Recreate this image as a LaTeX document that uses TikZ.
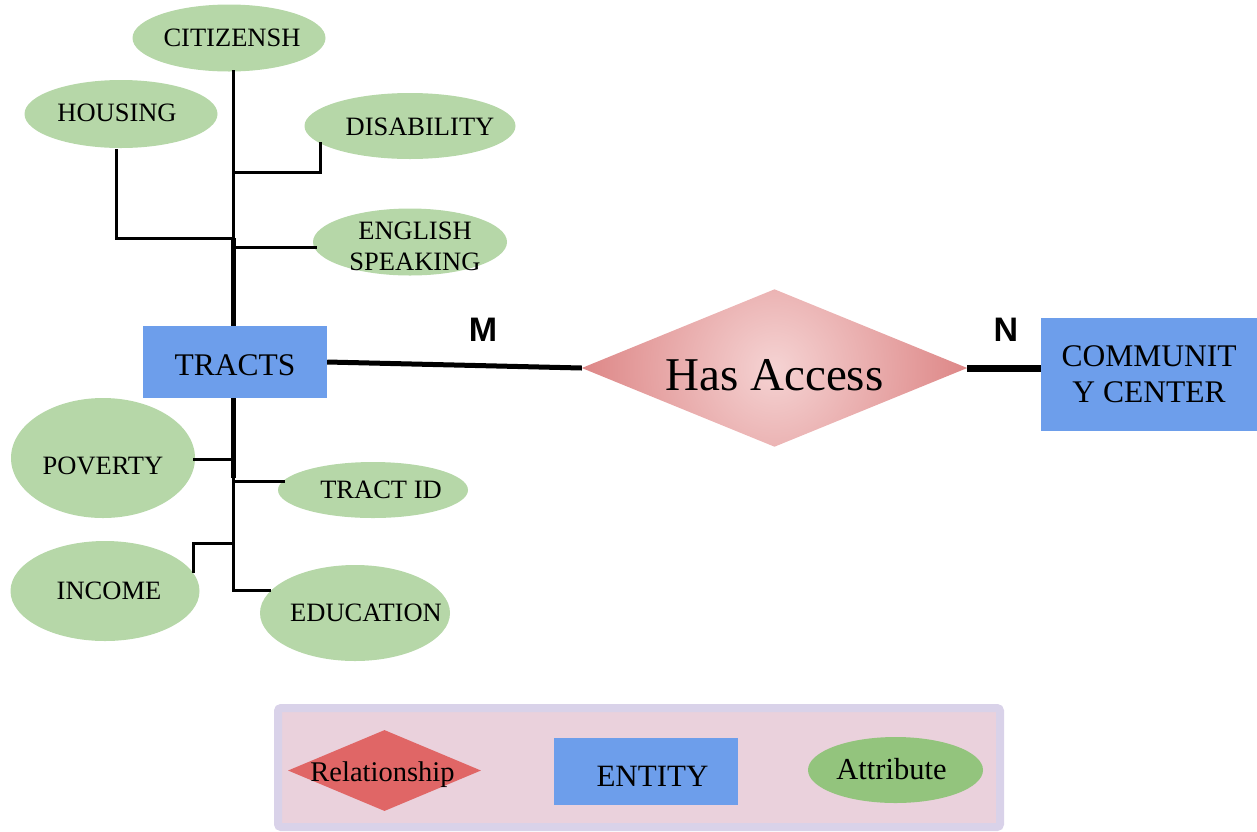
\documentclass[tikz,border=0pt]{standalone}
\usepackage{fontspec}
\setmainfont{Liberation Serif}
\newfontfamily\sansbold{Liberation Sans}[BoldFont={Liberation Sans Bold}]
\usetikzlibrary{shapes.geometric}
\definecolor{attrgreen}{HTML}{B6D7A8}
\definecolor{entblue}{HTML}{6D9EEB}
\definecolor{relred}{HTML}{E06666}
\definecolor{legfill}{HTML}{EAD1DC}
\definecolor{legline}{HTML}{D9D2E9}
\definecolor{legattr}{HTML}{93C47D}
\definecolor{shin}{HTML}{F5D3D3}
\definecolor{shout}{HTML}{CC5050}
\tikzset{
  attr/.style={ellipse, fill=attrgreen, inner sep=0pt},
  atext/.style={font=\fontsize{26.5}{31}\selectfont, inner sep=0pt, align=center},
  entity/.style={rectangle, fill=entblue, inner sep=0pt},
  br/.style={line width=3pt, line cap=rect},
  tk/.style={line width=5pt},
  card/.style={font=\sansbold\bfseries\fontsize{34}{34}\selectfont, inner sep=0pt}
}
\begin{document}
\begin{tikzpicture}[x=1pt,y=-1pt]
\useasboundingbox (0,0) rectangle (1257,831);

% attributes
\node[attr, minimum width=193pt, minimum height=67pt] (citizen) at (229,38) {};
\node[atext] at ([xshift=3pt]citizen.center) {CITIZENSH};
\node[attr, minimum width=193pt, minimum height=68pt] (housing) at (121,114) {};
\node[atext] at ([xshift=-4pt,yshift=1pt]housing.center) {HOUSING};
\node[attr, minimum width=211pt, minimum height=66pt] (disab) at (410,126) {};
\node[atext] at ([xshift=10pt,yshift=-1pt]disab.center) {DISABILITY};
\node[attr, minimum width=194pt, minimum height=67pt] (english) at (410,242) {};
\node[atext] at ([xshift=5pt,yshift=-4pt]english.center) {ENGLISH\\SPEAKING};
\node[attr, minimum width=184pt, minimum height=120pt] (poverty) at (103,458) {};
\node[atext] at ([yshift=-8pt]poverty.center) {POVERTY};
\node[attr, minimum width=190pt, minimum height=56pt] (tractid) at (373,490) {};
\node[atext] at ([xshift=8pt]tractid.center) {TRACT ID};
\node[attr, minimum width=189pt, minimum height=100pt] (income) at (105,591) {};
\node[atext] at ([xshift=4pt]income.center) {INCOME};
\node[attr, minimum width=190pt, minimum height=96pt] (educ) at (355,613) {};
\node[atext] at ([xshift=11pt]educ.center) {EDUCATION};

% entities
\node[entity, minimum width=184pt, minimum height=72pt] (tracts) at (235,362) {};
\node[font=\fontsize{31.5}{36}\selectfont, inner sep=0pt] at ([yshift=-3pt]tracts.center) {TRACTS};
\node[entity, minimum width=216pt, minimum height=113pt, font=\fontsize{31.5}{36}\selectfont, align=center] (cc) at (1149,374.5) {COMMUNIT\\Y CENTER};

% relationship
\node[diamond, minimum width=385pt, minimum height=157pt, inner sep=0pt] (has) at (774.5,368) {};
\begin{scope}
  \clip (has.north) -- (has.east) -- (has.south) -- (has.west) -- cycle;
  \shade[inner color=shin, outer color=shout] (has.center) circle (330pt);
\end{scope}
\node[font=\fontsize{47}{50}\selectfont, inner sep=0pt] at ([yshift=-7pt]has.center) {Has Access};

% trunk coordinates
\coordinate (tTop) at (233,71);
\coordinate (jDis) at (233,172);
\coordinate (jHou) at (233,238);
\coordinate (jEng) at (233,247);
\coordinate (tBot) at (233,398);
\coordinate (jPov) at (233,459);
\coordinate (jTid) at (233,481);
\coordinate (jThin) at (233,478);
\coordinate (jInc) at (233,543);
\coordinate (jEdu) at (233,590);
\coordinate (disEnd) at (320,143);
\coordinate (houEnd) at (116,150);
\coordinate (engEnd) at (315,247);
\coordinate (povEnd) at (194,459);
\coordinate (tidEnd) at (283,481);
\coordinate (incEnd) at (193,571);
\coordinate (eduEnd) at (269,590);

% upper trunk
\draw[br] (tTop) -- (jHou);
\draw[tk] (jHou) -- (jHou |- tracts.north);
\draw[br] (jDis) -| (disEnd);
\draw[br] (jHou) -| (houEnd);
\draw[br] (jEng) -- (engEnd);
% lower trunk
\draw[tk] (tBot) -- (jThin);
\draw[br] (jThin) -- (jEdu);
\draw[br] (jPov) -- (povEnd);
\draw[br] (jTid) -- (tidEnd);
\draw[br] (jInc) -| (incEnd);
\draw[br] (jEdu) -- (eduEnd);

% relationship lines
\draw[line width=5pt] (tracts.east) -- (has.west);
\draw[line width=7pt] (has.east) -- (has.east -| cc.west);
\node[card] (mlab) at (483,330) {M};
\node[card] (nlab) at (1006,330) {N};

% legend
\node[rectangle, draw=legline, fill=legfill, line width=8pt, rounded corners=3pt,
      minimum width=722pt, minimum height=119pt, inner sep=0pt] (legend) at (639,767.5) {};
\node[diamond, fill=relred, minimum width=193pt, minimum height=81pt, inner sep=0pt] (lrel) at (384.5,770.5) {};
\node[font=\fontsize{28.5}{30}\selectfont, inner sep=0pt] at ([xshift=-2pt,yshift=-4pt]lrel.center) {Relationship};
\node[entity, minimum width=184pt, minimum height=67pt] (lent) at (645.5,771.5) {};
\node[font=\fontsize{31}{34}\selectfont, inner sep=0pt] at ([xshift=7pt,yshift=-5pt]lent.center) {ENTITY};
\node[ellipse, fill=legattr, minimum width=175pt, minimum height=66pt, inner sep=0pt] (lattr) at (895.5,770) {};
\node[font=\fontsize{30.5}{34}\selectfont, inner sep=0pt] at ([xshift=-4pt,yshift=1pt]lattr.center) {Attribute};
\end{tikzpicture}
\end{document}
